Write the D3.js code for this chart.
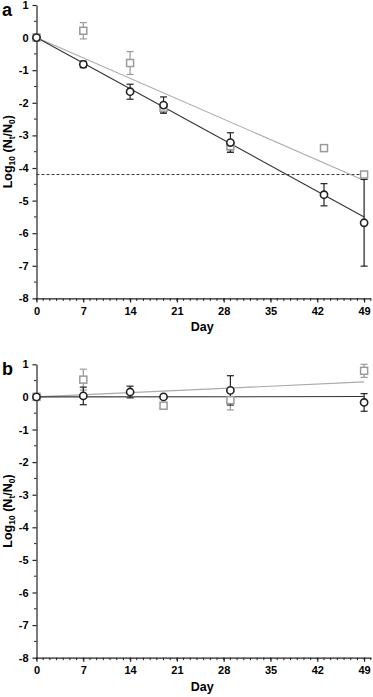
<html>
<head>
<meta charset="utf-8">
<style>
  body { margin: 0; background: #fff; }
  svg text { font-family: "Liberation Sans", Arial, sans-serif; font-weight: bold; }
</style>
</head>
<body>
<svg id="chart" width="373" height="697"></svg>
<script src="https://cdn.jsdelivr.net/npm/d3@7"></script>
<script>
  // days sampled
  let daysA = [0, 7, 14, 19, 29, 43, 49]
  let circA = [0, -0.82, -1.66, -2.07, -3.22, -4.82, -5.68]
  let circAErr = [0, 0.1, 0.23, 0.25, 0.3, 0.34, 1.33]
  let sqA = [0, 0.21, -0.78, -2.15, -3.33, -3.39, -4.2]
  let sqAErr = [0, 0.25, 0.35, 0.15, 0.15, 0, 0]
  let fitA = { black: [0, -5.5], gray: [0, -4.38] }
  let limitA = -4.2

  let daysB = [0, 7, 14, 19, 29, 49]
  let circB = [0, 0.03, 0.15, 0, 0.2, -0.17]
  let circBErr = [0, 0.27, 0.18, 0, 0.45, 0.27]
  let sqDaysB = [0, 7, 19, 29, 49]
  let sqB = [0, 0.53, -0.27, -0.1, 0.8]
  let sqBErr = [0, 0.32, 0, 0.3, 0.2]
  let fitB = { black: [0, 0.01], gray: [0, 0.46] }

  let xTicks = [0, 7, 14, 21, 28, 35, 42, 49]
  let yTicks = [1, 0, -1, -2, -3, -4, -5, -6, -7, -8]

  let svg = d3.select("#chart")
  let black = "#222"
  let gray = "#9a9a9a"

  function panel(top, letter, circ, sq, limit, fit) {
    let g = svg.append("g")
    let x = d3.scaleLinear().domain([0, 50]).range([36.5, 370.8])
    let y = d3.scaleLinear().domain([1, -8]).range([top, top + 293.4])

    // x axis
    let xAxis = d3.axisBottom(x).tickValues(xTicks).tickSize(4).tickSizeOuter(0).tickPadding(5)
    let xg = g.append("g").attr("transform", `translate(0,${y(-8)})`).call(xAxis)
    xg.selectAll(".tick text").attr("font-size", 11).attr("font-family", null)
    xg.selectAll("line, path").attr("stroke", black).attr("stroke-width", 1.2)
    xg.selectAll(".minor").data(d3.range(0, 51)).enter().append("line")
      .attr("x1", d => x(d)).attr("x2", d => x(d)).attr("y1", 0).attr("y2", 2.5)
      .attr("stroke", black).attr("stroke-width", 1)

    // y axis
    let yAxis = d3.axisLeft(y).tickValues(yTicks).tickFormat(d => String(d))
      .tickSize(4).tickSizeOuter(0).tickPadding(4)
    let yg = g.append("g").attr("transform", `translate(${x(0)},0)`).call(yAxis)
    yg.selectAll(".tick text").attr("font-size", 11).attr("font-family", null)
    yg.selectAll("line, path").attr("stroke", black).attr("stroke-width", 1.2)
    yg.selectAll(".minor").data(d3.range(-7.5, 1, 1)).enter().append("line")
      .attr("y1", d => y(d)).attr("y2", d => y(d)).attr("x1", 0).attr("x2", -2.5)
      .attr("stroke", black).attr("stroke-width", 1)

    g.append("text").attr("x", 2).attr("y", top + 11).attr("font-size", 18).text(letter)
    g.append("text").attr("x", x(24.8)).attr("y", y(-8) + 33).attr("font-size", 12.5)
      .attr("text-anchor", "middle").text("Day")
    let lab = g.append("text").attr("font-size", 12.5).attr("text-anchor", "middle")
      .attr("transform", `translate(12,${y(-3.5)}) rotate(-90)`)
    lab.append("tspan").text("Log")
    lab.append("tspan").attr("font-size", 8.5).attr("dy", 3).text("10")
    lab.append("tspan").attr("dy", -3).text(" (N")
    lab.append("tspan").attr("font-size", 8.5).attr("dy", 3).text("t")
    lab.append("tspan").attr("dy", -3).text("/N")
    lab.append("tspan").attr("font-size", 8.5).attr("dy", 3).text("0")
    lab.append("tspan").attr("dy", -3).text(")")

    if (limit !== null) {
      g.append("line").attr("x1", x(0)).attr("x2", x(49)).attr("y1", y(limit)).attr("y2", y(limit))
        .attr("stroke", black).attr("stroke-width", 0.9).attr("stroke-dasharray", "3,2")
    }

    // fitted lines
    g.append("line").attr("x1", x(0)).attr("x2", x(49)).attr("y1", y(fit.gray[0])).attr("y2", y(fit.gray[1]))
      .attr("stroke", "#aaa").attr("stroke-width", 1.1)
    g.append("line").attr("x1", x(0)).attr("x2", x(49)).attr("y1", y(fit.black[0])).attr("y2", y(fit.black[1]))
      .attr("stroke", "#333").attr("stroke-width", 1.1)

    function errBars(pts, color) {
      let e = g.append("g").attr("stroke", color).attr("stroke-width", 1.2)
      pts.filter(p => p.e > 0).forEach(p => {
        e.append("line").attr("x1", x(p.d)).attr("x2", x(p.d)).attr("y1", y(p.v + p.e)).attr("y2", y(p.v - p.e))
        e.append("line").attr("x1", x(p.d) - 3.5).attr("x2", x(p.d) + 3.5).attr("y1", y(p.v + p.e)).attr("y2", y(p.v + p.e))
        e.append("line").attr("x1", x(p.d) - 3.5).attr("x2", x(p.d) + 3.5).attr("y1", y(p.v - p.e)).attr("y2", y(p.v - p.e))
      })
    }
    errBars(sq, gray)
    errBars(circ, black)

    g.selectAll(".sq").data(sq).enter().append("rect")
      .attr("x", d => x(d.d) - 3.5).attr("y", d => y(d.v) - 3.5).attr("width", 7).attr("height", 7)
      .attr("fill", "white").attr("stroke", gray).attr("stroke-width", 1.5)
    g.selectAll(".circ").data(circ).enter().append("circle")
      .attr("cx", d => x(d.d)).attr("cy", d => y(d.v)).attr("r", 3.6)
      .attr("fill", "white").attr("stroke", black).attr("stroke-width", 1.6)
  }

  let zip = (ds, vs, es) => ds.map((d, i) => ({ d: d, v: vs[i], e: es[i] }))

  panel(5, "a", zip(daysA, circA, circAErr), zip(daysA, sqA, sqAErr), limitA, fitA)
  panel(364.3, "b", zip(daysB, circB, circBErr), zip(sqDaysB, sqB, sqBErr), null, fitB)
</script>
</body>
</html>
